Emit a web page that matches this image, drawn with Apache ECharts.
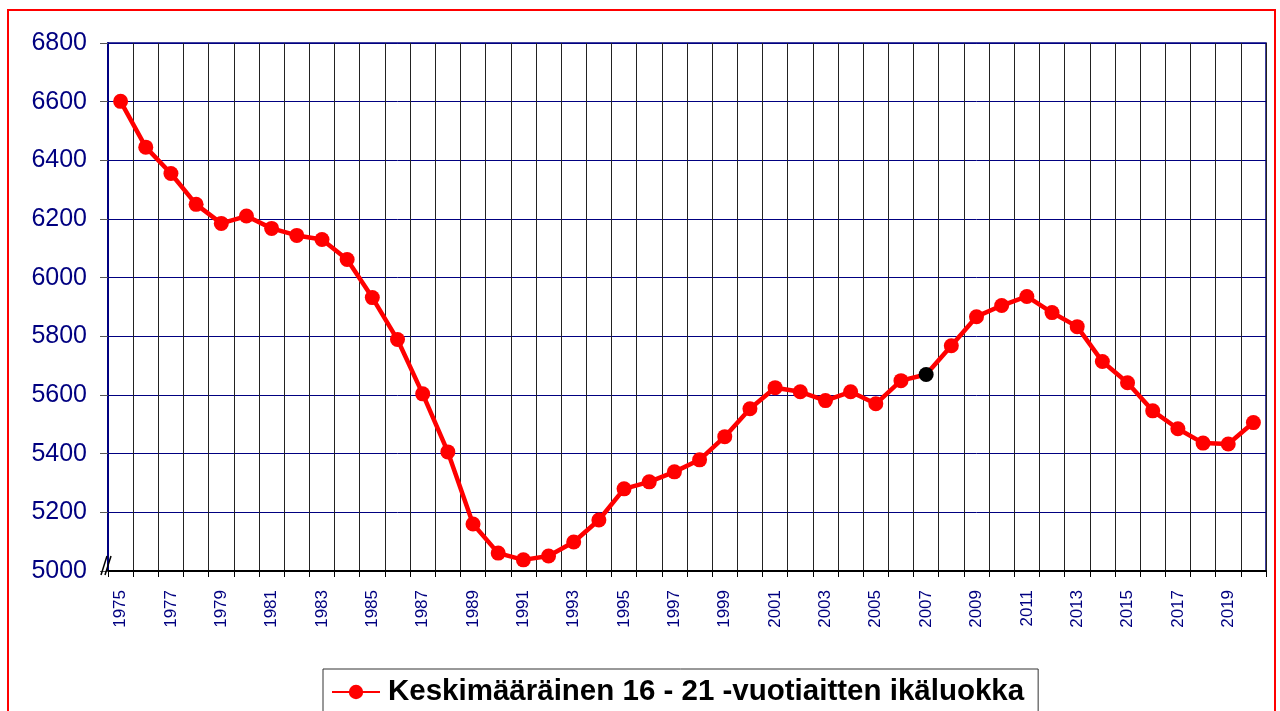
<!DOCTYPE html>
<html>
<head>
<meta charset="utf-8">
<script src="https://cdn.jsdelivr.net/npm/echarts@6/dist/echarts.min.js"></script>
<style>
html, body { margin: 0; padding: 0; background: #fff; }
#main { width: 1280px; height: 711px; }
</style>
</head>
<body>
<div id="main"></div>
<script>
// data
var years = [];
for (var y = 1975; y <= 2020; y++) { years.push(String(y)); }
var values = [6601, 6445, 6355, 6250, 6185, 6210, 6168, 6144, 6130, 6062,
              5932, 5789, 5604, 5406, 5160, 5061, 5038, 5051, 5099, 5174,
              5280, 5304, 5338, 5379, 5458, 5553, 5625, 5611, 5581, 5611,
              5570, 5649, 5670, 5768, 5867, 5905, 5936, 5881, 5833, 5714,
              5642, 5546, 5485, 5436, 5433, 5506];
var blackYear = '2007'; // point drawn in black
var seriesName = 'Keskimääräinen 16 - 21 -vuotiaitten ikäluokka';

var chart = echarts.init(document.getElementById('main'));
var font = 'Liberation Sans, Arial, sans-serif';

var seriesData = values.map(function (v, i) {
    if (years[i] === blackYear) {
        return { value: v, itemStyle: { color: '#000' } };
    }
    return v;
});

var option = {
    backgroundColor: '#fff',
    animation: false,
    grid: {
        left: 108,
        right: 14,
        top: 43,
        bottom: 140,
        show: true,
        borderColor: '#000080',
        borderWidth: 1.5
    },
    legend: {
        left: 323,
        top: 669,
        padding: [8, 14, 22, 8],
        borderColor: '#333',
        borderWidth: 1,
        itemWidth: 48,
        itemHeight: 18,
        textStyle: {
            fontFamily: font,
            fontSize: 29.5,
            fontWeight: 'bold',
            color: '#000',
            padding: [0, 0, 0, 3]
        },
        data: [seriesName]
    },
    xAxis: {
        type: 'category',
        data: years,
        boundaryGap: true,
        axisLine: { lineStyle: { color: '#000', width: 2 } },
        axisTick: { show: true, interval: 0, length: 6, lineStyle: { color: '#000' } },
        axisLabel: {
            interval: 1,
            rotate: 90,
            margin: 19,
            fontFamily: font,
            fontSize: 17,
            color: '#000080'
        },
        splitLine: { show: true, interval: 0, lineStyle: { color: '#222', width: 1 } }
    },
    yAxis: {
        type: 'value',
        min: 5000,
        max: 6800,
        interval: 200,
        axisLine: { show: true, lineStyle: { color: '#000080', width: 2 } },
        axisTick: { show: true, length: 8, lineStyle: { color: '#555' } },
        axisLabel: {
            margin: 21,
            fontFamily: font,
            fontSize: 25,
            color: '#000080',
            formatter: function (v) { return String(v); }
        },
        splitLine: { show: true, lineStyle: { color: '#000080', width: 1 } }
    },
    series: [{
        name: seriesName,
        type: 'line',
        data: seriesData,
        symbol: 'circle',
        symbolSize: 15,
        itemStyle: { color: '#ff0000' },
        lineStyle: { color: '#ff0000', width: 4.5 },
        z: 5
    }],
    graphic: [
        {
            type: 'rect',
            shape: { x: 8, y: 10, width: 1267, height: 720 },
            style: { fill: 'none', stroke: '#ff0000', lineWidth: 2 },
            silent: true
        },
        // axis break mark
        {
            type: 'line',
            shape: { x1: 101, y1: 575, x2: 107, y2: 556 },
            style: { stroke: '#000', lineWidth: 1.5 },
            z: 10
        },
        {
            type: 'line',
            shape: { x1: 105, y1: 575, x2: 111, y2: 556 },
            style: { stroke: '#000', lineWidth: 1.5 },
            z: 10
        }
    ]
};

chart.setOption(option);
</script>
</body>
</html>
